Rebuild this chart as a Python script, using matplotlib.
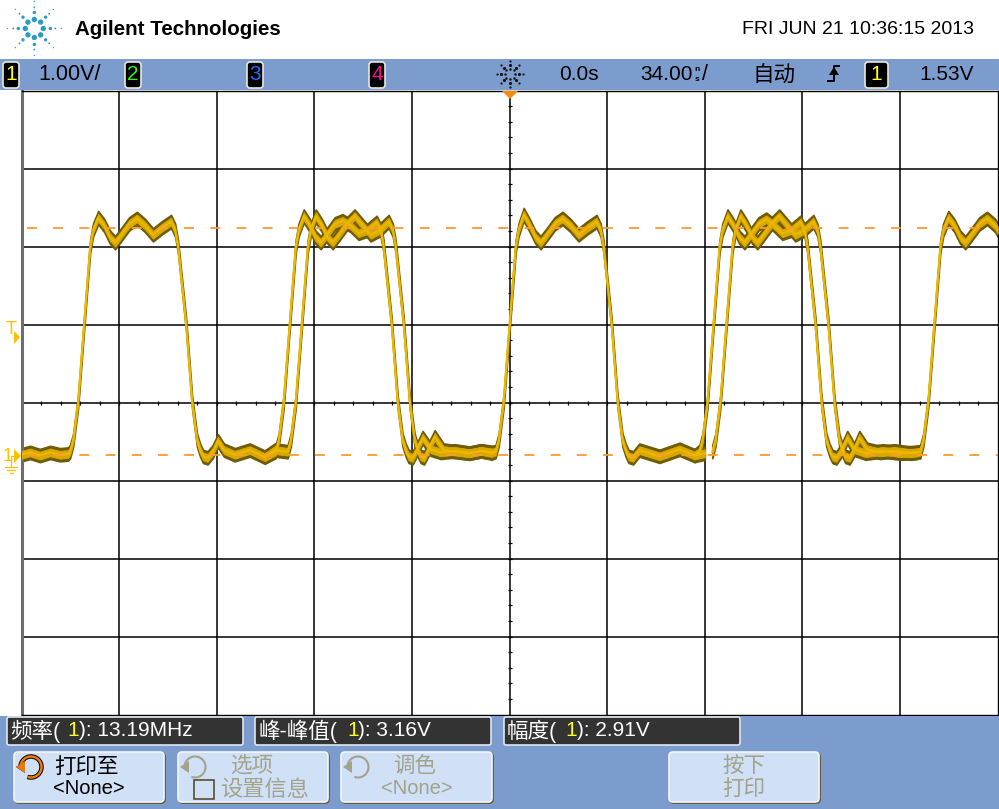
import numpy as np
import matplotlib
matplotlib.use('Agg')
import matplotlib.pyplot as plt
from matplotlib.patches import Rectangle, FancyBboxPatch, Arc, Polygon

plt.rcParams['font.family'] = ['Liberation Sans', 'Noto Sans CJK SC', 'DejaVu Sans']

# Waveform: time in ns, voltage in V
t_low0 = [-170, -167, -163.6, -160, -156.6, -153.8]
v_low0 = [0.0, 0.03, -0.01, 0.03, 0.0, 0.01]

t_p1 = [-153.1, -152, -150.3, -148.2, -146.1, -145.1, -143.3, -141.2, -139.2, -137.4, -135.3, -132.5,
        -129.8, -127, -124.2, -121.1, -117.9, -116.5, -115.5, -112.7, -110.6, -108.9, -107.8, -106.8,
        -105.2, -103.4, -101.6, -99.5, -95.7, -90.5, -85.3, -81.8, -77.5]
v_p1 = [0.04, 0.19, 0.68, 1.68, 2.67, 2.88, 3.04, 2.94, 2.79, 2.72, 2.82, 2.96,
        3.03, 2.94, 2.82, 2.91, 2.99, 2.88, 2.67, 1.68, 0.68, 0.19, 0.06, -0.02,
        -0.04, 0.04, 0.18, 0.06, 0.0, 0.06, -0.03, 0.06, 0.04]

t_p2a = [-85.3, -81.5, -80.4, -78.7, -76.6, -74.5, -73.5, -71.7, -69.6, -67.6, -65.8, -63.7, -60.9,
         -58.2, -55.4, -52.6, -49.5, -46.3, -44.9, -43.9, -41.1, -39, -37.3, -36.2, -35.2,
         -33.8, -32.5, -30.3, -27.5, -24, -19, -14, -10, -6]
v_p2a = [-0.03, 0.04, 0.19, 0.68, 1.68, 2.67, 2.88, 3.06, 2.94, 2.79, 2.72, 2.82, 2.96,
         3.0, 2.94, 2.84, 2.88, 2.98, 2.88, 2.67, 1.68, 0.68, 0.19, 0.06, -0.02,
         -0.04, 0.05, 0.22, 0.07, 0.03, 0.05, 0.02, 0.05, 0.02]

t_p2b = [-77.3, -76.2, -74.5, -72.4, -70.3, -69.3, -67.5, -65.4, -63.4, -61.6, -59.5, -56.7,
         -54, -51.2, -48.4, -45.3, -42.1, -40.7, -39.7, -36.9, -34.8, -33.1, -32, -31,
         -29.8, -28.5, -26.1, -23, -19, -14, -10, -6]
v_p2b = [0.04, 0.19, 0.68, 1.68, 2.67, 2.88, 3.06, 2.94, 2.79, 2.72, 2.82, 2.96,
         3.06, 2.94, 2.82, 2.88, 2.99, 2.88, 2.67, 1.68, 0.68, 0.19, 0.06, -0.02,
         -0.04, 0.05, 0.23, 0.06, 0.04, 0.02, 0.05, 0.03]

t_p3 = [-6, -4.9, -3.8, -2.1, 0, 2.1, 3.1, 4.9, 7, 9, 10.8, 12.9, 15.7,
        18.4, 21.2, 24, 27.1, 30.3, 31.7, 32.7, 35.5, 37.6, 39.3, 40.4, 41.4,
        43, 45.2, 52.2, 59.2, 64.4, 68]
v_p3 = [0.03, 0.04, 0.19, 0.68, 1.68, 2.67, 2.88, 3.08, 2.94, 2.79, 2.72, 2.82, 2.96,
        3.03, 2.94, 2.82, 2.91, 2.99, 2.88, 2.67, 1.68, 0.68, 0.19, 0.06, -0.02,
        -0.04, 0.06, -0.02, 0.07, -0.01, 0.02]

t_p4a = [64.4, 66.1, 67.2, 68.9, 71, 73.1, 74.1, 75.9, 78, 80, 81.8, 83.9, 86.7,
         89.4, 92.2, 95, 98.1, 101.3, 102.7, 103.7, 106.5, 108.6, 110.3, 111.4, 112.4,
         113.8, 115.5, 117.6, 120, 124, 130, 136, 142]
v_p4a = [-0.01, 0.04, 0.19, 0.68, 1.68, 2.67, 2.88, 3.06, 2.94, 2.79, 2.72, 2.82, 2.96,
         3.02, 2.94, 2.84, 2.88, 2.98, 2.88, 2.67, 1.68, 0.68, 0.19, 0.06, -0.02,
         -0.04, 0.05, 0.22, 0.07, 0.02, 0.05, 0.02, 0.03]

t_p4b = [70.6, 71.7, 73.4, 75.5, 77.6, 78.6, 80.4, 82.5, 84.5, 86.3, 88.4, 91.2,
         93.9, 96.7, 99.5, 102.6, 105.8, 107.2, 108.2, 111, 113.1, 114.8, 115.9, 116.9,
         118.4, 119.8, 121.8, 124.5, 129, 134, 140, 143]
v_p4b = [0.04, 0.19, 0.68, 1.68, 2.67, 2.88, 3.06, 2.94, 2.79, 2.72, 2.82, 2.96,
         3.06, 2.94, 2.82, 2.88, 2.99, 2.88, 2.67, 1.68, 0.68, 0.19, 0.06, -0.02,
         -0.04, 0.05, 0.22, 0.07, 0.03, 0.05, 0.02, 0.04]

t_p5 = [143, 144.1, 145.8, 147.9, 150, 151, 152.8, 154.9, 156.9, 158.7, 160.8, 163.6, 166.3, 169.1, 170]
v_p5 = [0.04, 0.19, 0.68, 1.68, 2.67, 2.88, 3.04, 2.94, 2.79, 2.72, 2.82, 2.96, 3.03, 2.94, 2.88]

# settings shown on screen
ns_per_div = 34.0
v_per_div = 1.0
v_top = 2.91
v_base = 0.0
v_center = 0.67

fig = plt.figure(figsize=(9.99, 8.09), dpi=100, facecolor='white')

# scope grid
ax = fig.add_axes([21.5 / 999, 1 - 714.5 / 809, 976.2 / 999, 624 / 809])
ax.set_xlim(-5 * ns_per_div, 5 * ns_per_div)
ax.set_ylim(v_center - 4 * v_per_div, v_center + 4 * v_per_div)
ax.set_xticks([])
ax.set_yticks([])
for s in ax.spines.values():
    s.set_linewidth(1.0)
    s.set_color('black')
ax.spines['left'].set_linewidth(2.2)
ax.spines['left'].set_color('#6e6e6e')

for i in range(-4, 5):
    ax.axvline(i * ns_per_div, color='black', lw=1.1, zorder=1)
for i in range(-3, 4):
    ax.axhline(v_center + i * v_per_div, color='black', lw=1.1, zorder=1)

# small ticks on the centre lines
xt = np.arange(-25, 26) * ns_per_div / 5
yt = v_center + np.arange(-20, 21) * v_per_div / 5
ax.plot(xt, np.full(xt.shape, v_center), '|', color='black', ms=3.5, mew=0.9, zorder=1)
ax.plot(np.zeros(yt.shape), yt, '_', color='black', ms=3.5, mew=0.9, zorder=1)

traces = [(t_low0 + t_p1, v_low0 + v_p1), (t_p2a, v_p2a), (t_p2b, v_p2b), (t_p3, v_p3),
          (t_p4a, v_p4a), (t_p4b, v_p4b), (t_p5, v_p5)]
for t, v in traces:
    v = np.array(v)
    ax.fill_between(t, v - 0.085, v + 0.085, color='#6f5c08', lw=1.2, joinstyle='round', zorder=2)
for t, v in traces:
    v = np.array(v)
    ax.fill_between(t, v - 0.05, v + 0.05, color='#d9a900', lw=0.6, joinstyle='round', zorder=3)
    ax.plot(t, v, color='#ecb800', lw=1.5, solid_joinstyle='round', zorder=4)

for lev in [v_top, v_base]:
    ax.plot([-168, 170], [lev, lev], color='#ff9a2e', lw=1.3, dashes=(5.5, 9), zorder=5)

# everything around the grid is drawn in pixel coordinates
ov = fig.add_axes([0, 0, 1, 1], zorder=5)
ov.set_xlim(0, 999)
ov.set_ylim(809, 0)
ov.axis('off')
ov.patch.set_alpha(0)

blue = '#7b9ccc'
ov.add_patch(Rectangle((0, 59), 999, 31, color=blue, lw=0))
ov.add_patch(Rectangle((0, 715.5), 999, 94, color=blue, lw=0))


def label(x, y, s, size=15, color='black', ha='left', weight='normal'):
    ov.text(x, y, s, fontsize=size, color=color, ha=ha, va='center', fontweight=weight)


def badge(x, w, s, color):
    ov.add_patch(FancyBboxPatch((x + 1, 62), w - 2, 26, boxstyle='round,pad=0,rounding_size=3',
                                fc='black', ec='#e8e8d8', lw=1.2))
    label(x + w / 2, 74, s, size=15, color=color, ha='center')


# logo
for a in np.arange(0, 360, 45):
    radii = np.array([9, 16, 21, 27])
    xs = 34.3 + radii * np.cos(np.radians(a))
    ys = 28.5 + radii * np.sin(np.radians(a))
    ov.scatter(xs, ys, s=[15, 6, 1.8, 1], color='#2a9cc4', lw=0)
label(75, 29, 'Agilent Technologies', size=14.8, weight='bold')
label(974, 29, 'FRI JUN 21 10:36:15 2013', size=14, ha='right')

# top status bar
badge(2, 18, '1', '#ffff20')
badge(124, 18, '2', '#30f020')
badge(246, 18, '3', '#2a6cf0')
badge(368, 18, '4', '#f01090')
badge(864, 25, '1', '#ffff20')
label(38, 74, '1.00V/', size=15.5)
label(559, 74, '0.0s', size=15)
label(640, 74, '34.00', size=15)
label(697, 69, 'n', size=6, ha='center', weight='bold')
label(697, 79, 's', size=6, ha='center', weight='bold')
label(702, 74, '/', size=15.5)
label(752, 76, '自动', size=15.5)
label(919, 74, '1.53V', size=15)

# acquisition icon
for a in np.arange(0, 360, 45):
    for r, m in [(5, 1.5), (9, 2.5), (13, 1.2)]:
        ov.plot(510 + r * np.cos(np.radians(a)), 74 + r * np.sin(np.radians(a)), '.', color='#111111', ms=m)

# trigger edge icon
ov.plot([828, 834, 834, 839], [81, 81, 66, 66], color='black', lw=1.4)
ov.add_patch(Polygon([[829, 75], [839, 75], [834, 67]], fc='black', lw=0))

# time reference marker
ov.add_patch(Polygon([[502, 91], [518, 91], [510, 99]], fc='#f58a14', lw=0))

# channel markers
amber = '#ffc000'
label(6, 329, 'T', size=13, color=amber)
ov.add_patch(Polygon([[14, 331], [20, 337], [14, 344]], fc=amber, lw=0))
label(3, 456, '1', size=13, color=amber)
ov.add_patch(Polygon([[14, 449], [21, 456], [14, 463]], fc=amber, lw=0))
ov.plot([14, 11, 11], [456, 456, 467], color=amber, lw=0.9)
ov.plot([5, 17], [467, 467], color=amber, lw=0.9)
ov.plot([7, 15], [470, 470], color=amber, lw=0.9)
ov.plot([9.5, 12.5], [472.5, 472.5], color=amber, lw=0.9)

# measurements
meas = [(7, '频率(', 67, 79, '): 13.19MHz'),
        (255, '峰-峰值(', 347, 358, '): 3.16V'),
        (504, '幅度(', 565, 577, '): 2.91V')]
for x0, name, x1, x2, val in meas:
    ov.add_patch(FancyBboxPatch((x0, 717), 236, 28, boxstyle='round,pad=0,rounding_size=2',
                                fc='#333333', ec='#dfe6f2', lw=1.2))
    label(x0 + 3, 731, name, size=15.5, color='white')
    label(x1, 731, '1', size=15, color='#ffff20')
    label(x2, 731, val, size=15, color='white')


def button(x, w):
    ov.add_patch(FancyBboxPatch((x + 1, 753), w - 2, 50, boxstyle='round,pad=0,rounding_size=4',
                                fc='#665f38', ec='#665f38', lw=1.4))
    ov.add_patch(FancyBboxPatch((x, 752), w - 2, 50, boxstyle='round,pad=0,rounding_size=4',
                                fc='#cfe0f7', ec='#f2f6fc', lw=1.2))


def rotary(cx, color, lw):
    ov.add_patch(Arc((cx, 767), 21, 21, theta1=-190, theta2=110, color=color, lw=lw))
    ov.add_patch(Polygon([[cx - 15, 767], [cx - 6, 761], [cx - 6, 773]], fc=color, lw=0))


grey = '#a3a38a'
button(14, 152)
button(178, 152)
button(341, 153)
button(669, 152)
rotary(31, 'black', 3.2)
rotary(31, '#e87a10', 1.8)
rotary(195, grey, 1.5)
rotary(358, grey, 1.5)

label(54, 767, '打印至', size=15.5)
label(89, 788, '<None>', size=14.5, ha='center')
label(252, 766, '选项', size=15.5, color=grey, ha='center')
ov.add_patch(Rectangle((194, 780), 20, 19, fc='#cfe0f7', ec='#55502c', lw=1.2))
label(220, 790, '设置信息', size=16, color=grey)
label(415, 766, '调色', size=15.5, color=grey, ha='center')
label(417, 788, '<None>', size=14.5, color=grey, ha='center')
label(744, 766, '按下', size=15.5, color=grey, ha='center')
label(744, 789, '打印', size=15.5, color=grey, ha='center')

fig.savefig('out.png', dpi=100)
